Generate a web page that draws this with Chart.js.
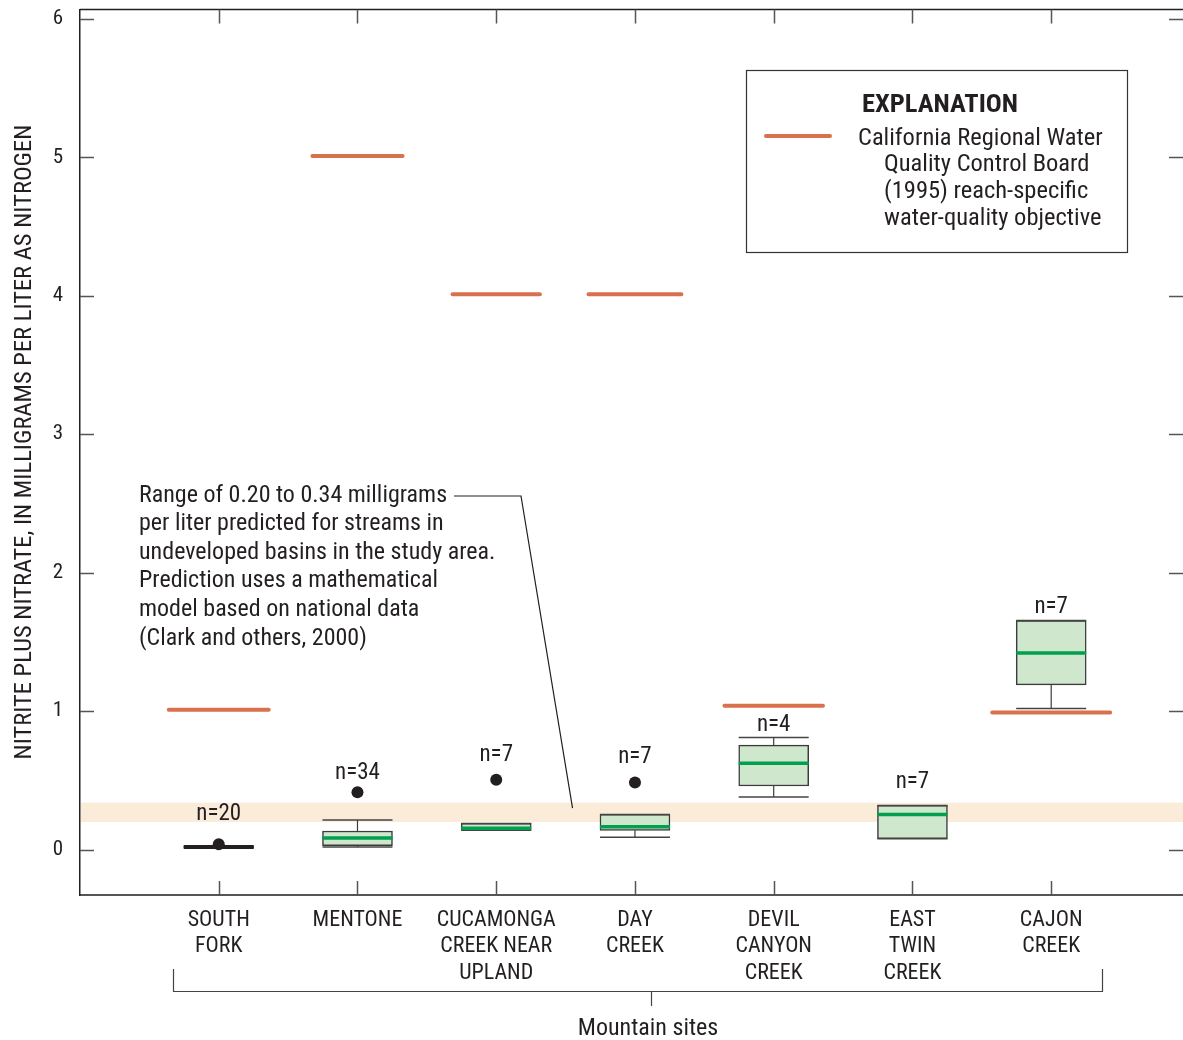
<!DOCTYPE html>
<html>
<head>
<meta charset="utf-8">
<script src="https://cdn.jsdelivr.net/npm/chart.js@4.4.1/dist/chart.umd.min.js"></script>
<style>
  html, body { margin: 0; padding: 0; background: #ffffff; }
  #wrap { width: 1183px; height: 1040px; }
</style>
</head>
<body>
<div id="wrap"><canvas id="chart" width="1183" height="1040"></canvas></div>
<script>
// ---- Data ---------------------------------------------------------------
const sites = ['SOUTH FORK', 'MENTONE', 'CUCAMONGA CREEK NEAR UPLAND', 'DAY CREEK',
               'DEVIL CANYON CREEK', 'EAST TWIN CREEK', 'CAJON CREEK'];
const siteLabelLines = [
  ['SOUTH', 'FORK'], ['MENTONE'], ['CUCAMONGA', 'CREEK NEAR', 'UPLAND'], ['DAY', 'CREEK'],
  ['DEVIL', 'CANYON', 'CREEK'], ['EAST', 'TWIN', 'CREEK'], ['CAJON', 'CREEK']
];
const sampleCounts = [20, 34, 7, 7, 4, 7, 7];
const whiskerLow  = [0.02, 0.02, 0.14, 0.09, 0.38, 0.08, 1.02];
const quartile1   = [0.02, 0.03, 0.14, 0.14, 0.46, 0.08, 1.19];
const medians     = [0.02, 0.085, 0.155, 0.165, 0.625, 0.255, 1.42];
const quartile3   = [0.02, 0.135, 0.19, 0.255, 0.755, 0.32, 1.655];
const whiskerHigh = [0.02, 0.215, 0.19, 0.255, 0.81, 0.32, 1.655];
const outliers    = [0.04, 0.415, 0.505, 0.485, null, null, null];
const objectives  = [1.01, 5.01, 4.01, 4.01, 1.04, null, 0.99];
const predictedRange = [0.20, 0.34];
const yTickValues = [0, 1, 2, 3, 4, 5, 6];

// ---- Styling ------------------------------------------------------------
const FONT = "'Roboto Condensed', 'Liberation Sans Narrow', 'Roboto', sans-serif";
const INK = '#231f20';
const BOX_FILL = '#cfe7cc';
const BOX_EDGE = '#3b3b3b';
const MEDIAN = '#00a04e';
const OBJECTIVE = '#d9704e';
const BAND = '#fbecd9';
const objectiveHalfSpan = [0.36, 0.325, 0.315, 0.335, 0.355, 0, 0.425];
const countLabelGap = [30, 19, 25, 25, 12, 23, 13];

const sitePos = sites.map((_, i) => i + 1);

// ---- Derived point lists -------------------------------------------------
const boxData = sitePos.map((x, i) => ({ x, y: [quartile1[i], quartile3[i]] }));
const medianData = sitePos.map((x, i) => ({ x, y: medians[i] }));
const capData = [];
const stemData = [];
sitePos.forEach((x, i) => {
  capData.push({ x, y: whiskerLow[i] }, { x, y: whiskerHigh[i] });
  if (whiskerHigh[i] > quartile3[i]) stemData.push({ x, y: quartile3[i] }, { x, y: whiskerHigh[i] }, { x, y: null });
  if (whiskerLow[i] < quartile1[i]) stemData.push({ x, y: whiskerLow[i] }, { x, y: quartile1[i] }, { x, y: null });
});
const outlierData = sitePos.map((x, i) => ({ x, y: outliers[i] })).filter(p => p.y !== null);
const objectiveData = [];
sitePos.forEach((x, i) => {
  if (objectives[i] === null) return;
  const h = objectiveHalfSpan[i];
  objectiveData.push({ x: x - h, y: objectives[i] }, { x: x + h, y: objectives[i] }, { x, y: null });
});

// ---- Overlay drawing: band, frame ticks, labels, explanation ----------------
const overlay = {
  id: 'overlay',
  beforeDatasetsDraw(chart) {
    const { ctx, chartArea: a, scales: { y } } = chart;
    const t = y.getPixelForValue(predictedRange[1]);
    const b = y.getPixelForValue(predictedRange[0]);
    ctx.save();
    ctx.fillStyle = BAND;
    ctx.fillRect(a.left + 1, t, a.right - a.left - 1, b - t);
    ctx.restore();
  },
  afterDraw(chart) {
    const { ctx, chartArea: a, scales: { x, y } } = chart;
    ctx.save();
    // top frame line
    ctx.strokeStyle = INK;
    ctx.lineWidth = 1.5;
    ctx.beginPath();
    ctx.moveTo(a.left, a.top);
    ctx.lineTo(a.right, a.top);
    ctx.stroke();
    // inward tick marks
    ctx.strokeStyle = '#555';
    ctx.lineWidth = 1.5;
    ctx.beginPath();
    yTickValues.forEach(v => {
      const py = Math.round(y.getPixelForValue(v)) + 0.5;
      ctx.moveTo(a.left, py); ctx.lineTo(a.left + 14, py);
      ctx.moveTo(a.right, py); ctx.lineTo(a.right - 14, py);
    });
    sitePos.forEach(v => {
      const pxx = Math.round(x.getPixelForValue(v)) + 0.5;
      ctx.moveTo(pxx, a.bottom); ctx.lineTo(pxx, a.bottom - 14);
      ctx.moveTo(pxx, a.top); ctx.lineTo(pxx, a.top + 14);
    });
    ctx.stroke();

    ctx.fillStyle = INK;
    ctx.textBaseline = 'middle';

    // axis titles
    ctx.textAlign = 'center';
    ctx.font = `24.5px ${FONT}`;
    ctx.save();
    ctx.translate(25, 442);
    ctx.rotate(-Math.PI / 2);
    ctx.fillText('NITRITE PLUS NITRATE, IN MILLIGRAMS PER LITER AS NITROGEN', 0, 0);
    ctx.restore();
    ctx.font = `24px ${FONT}`;
    ctx.fillText('Mountain sites', 648, 1028.5);

    // sample counts
    ctx.font = `23px ${FONT}`;
    sitePos.forEach((v, i) => {
      const top = Math.max(whiskerHigh[i], quartile3[i], outliers[i] === null ? -1 : outliers[i]);
      ctx.fillText('n=' + sampleCounts[i], x.getPixelForValue(v), y.getPixelForValue(top) - countLabelGap[i]);
    });

    // note about the predicted range, with leader line
    const note = ['Range of 0.20 to 0.34 milligrams', 'per liter predicted for streams in',
      'undeveloped basins in the study area.', 'Prediction uses a mathematical',
      'model based on national data', '(Clark and others, 2000)'];
    ctx.textAlign = 'left';
    ctx.font = `24px ${FONT}`;
    note.forEach((line, k) => ctx.fillText(line, 139, 495.5 + k * 28.6));
    ctx.strokeStyle = INK;
    ctx.lineWidth = 1.2;
    ctx.beginPath();
    ctx.moveTo(454, 496);
    ctx.lineTo(521, 496);
    ctx.lineTo(x.getPixelForValue(3.55), y.getPixelForValue(0.30));
    ctx.stroke();

    // explanation box
    ctx.lineWidth = 1.2;
    ctx.strokeStyle = '#333';
    ctx.strokeRect(746.5, 70.5, 381, 182);
    ctx.textAlign = 'center';
    ctx.font = `bold 26.5px ${FONT}`;
    ctx.fillText('EXPLANATION', 940, 105);
    ctx.strokeStyle = OBJECTIVE;
    ctx.lineWidth = 4;
    ctx.lineCap = 'round';
    ctx.beginPath();
    ctx.moveTo(766, 136); ctx.lineTo(830, 136);
    ctx.stroke();
    ctx.lineCap = 'butt';
    ctx.textAlign = 'left';
    ctx.font = `24.5px ${FONT}`;
    ctx.fillText('California Regional Water', 858, 139);
    ctx.fillText('Quality Control Board', 884, 165);
    ctx.fillText('(1995) reach-specific', 884, 192);
    ctx.fillText('water-quality objective', 884, 219);

    // grouping bracket under the site names
    ctx.strokeStyle = '#444';
    ctx.lineWidth = 1.2;
    ctx.beginPath();
    ctx.moveTo(173.5, 969); ctx.lineTo(173.5, 991.5); ctx.lineTo(1102.5, 991.5); ctx.lineTo(1102.5, 969);
    ctx.moveTo(651.5, 991.5); ctx.lineTo(651.5, 1006);
    ctx.stroke();
    ctx.restore();
  }
};

// ---- Chart ----------------------------------------------------------------
new Chart(document.getElementById('chart'), {
  type: 'bar',
  data: {
    datasets: [
      { type: 'line', data: stemData, borderColor: BOX_EDGE, borderWidth: 1.2, pointRadius: 0, spanGaps: false, order: 6 },
      { type: 'bar', data: boxData, backgroundColor: BOX_FILL, borderColor: BOX_EDGE, borderWidth: 1.5,
        borderSkipped: false, barThickness: 70, order: 5 },
      { type: 'scatter', data: capData, pointStyle: 'line', pointRadius: 35, pointBorderWidth: 1.5,
        pointBorderColor: '#444', order: 4 },
      { type: 'scatter', data: medianData, pointStyle: 'line', pointRadius: 35,
        pointBorderWidth: ctx => (quartile3[ctx.dataIndex] - quartile1[ctx.dataIndex] < 0.01 ? 4 : 3.5),
        pointBorderColor: ctx => (quartile3[ctx.dataIndex] - quartile1[ctx.dataIndex] < 0.01 ? INK : MEDIAN),
        order: 3 },
      { type: 'line', data: objectiveData, borderColor: OBJECTIVE, borderWidth: 4, borderCapStyle: 'round',
        pointRadius: 0, spanGaps: false, order: 2 },
      { type: 'scatter', data: outlierData, pointStyle: 'circle', pointRadius: 6, pointBackgroundColor: INK,
        pointBorderColor: INK, pointBorderWidth: 0, order: 1 }
    ]
  },
  options: {
    responsive: false,
    devicePixelRatio: 1,
    animation: false,
    events: [],
    layout: { autoPadding: false, padding: { top: 9.5, right: 0, bottom: 0, left: 0 } },
    plugins: { legend: { display: false }, tooltip: { enabled: false } },
    scales: {
      x: {
        type: 'linear', min: 0, max: 7.95, offset: false,
        grid: { display: false, drawTicks: false },
        border: { display: true, color: '#555', width: 2 },
        afterBuildTicks: s => { s.ticks = sitePos.map(v => ({ value: v })); },
        afterFit: s => { s.height = 145; s.paddingLeft = 0; s.paddingRight = 0; },
        ticks: {
          autoSkip: false, maxRotation: 0, padding: 12, color: INK,
          font: { family: FONT, size: 22, lineHeight: 1.2 },
          callback: v => siteLabelLines[v - 1] || ''
        }
      },
      y: {
        type: 'linear', min: -0.327, max: 6.067,
        grid: { display: false, drawTicks: false },
        border: { display: true, color: INK, width: 1.5 },
        afterBuildTicks: s => { s.ticks = yTickValues.map(v => ({ value: v })); },
        afterFit: s => { s.width = 80; s.paddingTop = 0; s.paddingBottom = 0; },
        ticks: { padding: 17, color: INK, font: { family: FONT, size: 21 } }
      }
    }
  },
  plugins: [overlay]
});
</script>
</body>
</html>
